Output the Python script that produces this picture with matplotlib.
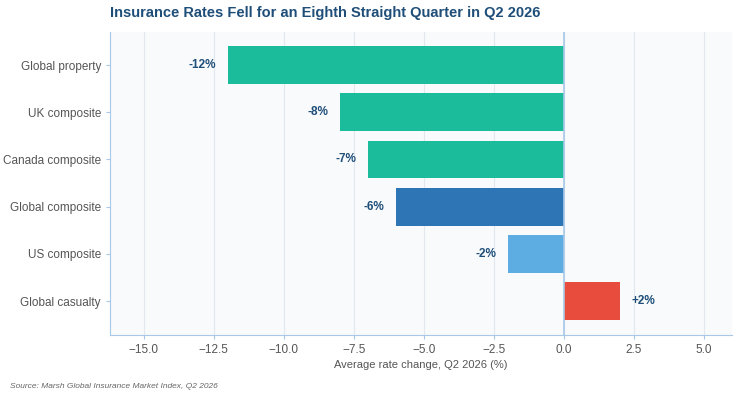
import matplotlib
matplotlib.use("Agg")
import matplotlib.pyplot as plt

categories = ["Global property", "UK composite", "Canada composite", "Global composite", "US composite", "Global casualty"]
values = [-12, -8, -7, -6, -2, 2]
colors = ["#1ABC9C", "#1ABC9C", "#1ABC9C", "#2E75B6", "#5DADE2", "#E74C3C"]
labels = ["-12%", "-8%", "-7%", "-6%", "-2%", "+2%"]

plt.rcParams['font.family'] = ['Liberation Sans', 'DejaVu Sans']
fig = plt.figure(figsize=(7.39, 4.0), dpi=100)
ax = fig.add_axes([110/739, 1-335/400, (732-110)/739, (335-32)/400])
ax.set_facecolor("#F8FAFC")
y = list(range(len(categories)))
ax.barh(y, values, color=colors, height=0.8, zorder=3)
for yi, v, l in zip(y, values, labels):
    if v < 0:
        ax.text(v - 0.4, yi, l, ha="right", va="center", fontsize=8.5, fontweight="bold", color="#1F4E79")
    else:
        ax.text(v + 0.4, yi, l, ha="left", va="center", fontsize=8.5, fontweight="bold", color="#1F4E79")
ax.axvline(0, color="#A9C8E8", lw=1.2, zorder=4)
ax.set_yticks(y)
ax.set_yticklabels(categories, fontsize=8.5, color="#444444")
ax.set_ylim(5.72, -0.7)
ax.set_xlim(-16.2, 6)
ax.set_xticks([-15, -12.5, -10, -7.5, -5, -2.5, 0, 2.5, 5])
ax.set_xticklabels(["\u221215.0", "\u221212.5", "\u221210.0", "\u22127.5", "\u22125.0", "\u22122.5", "0.0", "2.5", "5.0"], fontsize=8.5)
ax.grid(axis="x", color="#E3E8EE", lw=0.8, zorder=0)
ax.set_xlabel("Average rate change, Q2 2026 (%)", fontsize=8, color="#555555", labelpad=3)
for s in ["top", "right"]:
    ax.spines[s].set_visible(False)
for s in ["left", "bottom"]:
    ax.spines[s].set_color("#A9C8E8")
ax.tick_params(axis="both", colors="#A9C8E8", labelcolor="#555555", length=3)
fig.text(110/739, 1-13/400, "Insurance Rates Fell for an Eighth Straight Quarter in Q2 2026", fontsize=10.5, fontweight="bold", color="#1F4E79", va="center")
fig.text(10/739, 1-387/400, "Source: Marsh Global Insurance Market Index, Q2 2026", fontsize=6, style="italic", color="#666666", va="center")
fig.savefig("out.png", dpi=100)
